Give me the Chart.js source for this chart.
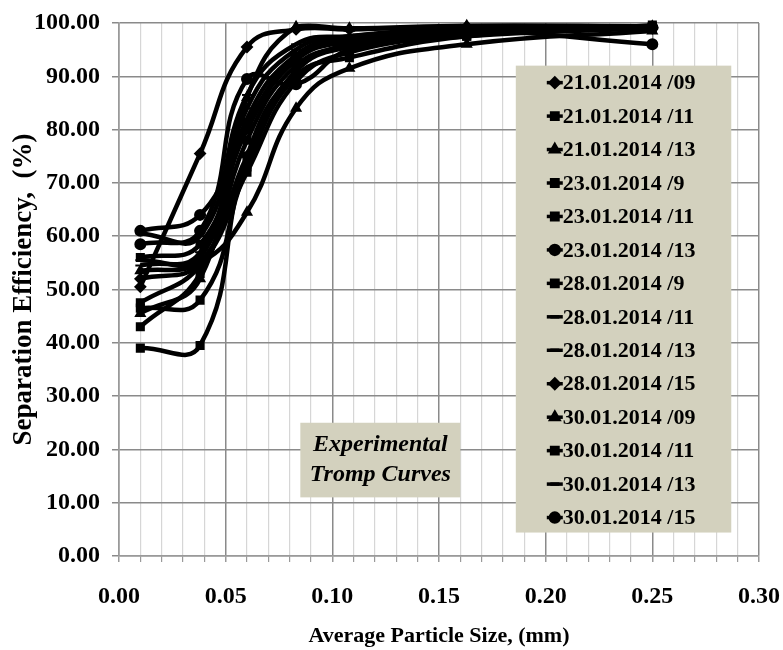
<!DOCTYPE html>
<html>
<head>
<meta charset="utf-8">
<script src="https://cdn.jsdelivr.net/npm/chart.js@4.4.1/dist/chart.umd.min.js"></script>
<style>
  html, body { margin: 0; padding: 0; background: #fff; }
  canvas { display: block; }
</style>
</head>
<body>
<canvas id="chart" width="783" height="650"></canvas>
<script>
// particle size (mm) at which every run was measured
const sizes = [0.01, 0.038, 0.06, 0.083, 0.108, 0.163, 0.25]

const labels = [
  '21.01.2014 /09', '21.01.2014 /11', '21.01.2014 /13',
  '23.01.2014 /9', '23.01.2014 /11', '23.01.2014 /13',
  '28.01.2014 /9', '28.01.2014 /11', '28.01.2014 /13', '28.01.2014 /15',
  '30.01.2014 /09', '30.01.2014 /11', '30.01.2014 /13', '30.01.2014 /15'
]
const markers = [
  'rectRot', 'rect', 'triangle',
  'rect', 'rect', 'circle',
  'rect', 'line', 'line', 'rectRot',
  'triangle', 'rect', 'line', 'circle'
]

// separation efficiency (%) per run
const r21_09 = [50.5, 75.5, 95.5, 98.8, 98.8, 99.3, 99.0]
const r21_11 = [56.0, 58.5, 80.0, 93.0, 96.5, 98.5, 99.3]
const r21_13 = [53.5, 55.0, 64.5, 84.0, 91.5, 96.0, 98.5]
const r23_09 = [43.0, 53.0, 78.0, 92.0, 95.5, 98.0, 99.2]
const r23_11 = [47.5, 54.5, 72.0, 89.0, 94.5, 97.5, 99.0]
const r23_13 = [58.5, 61.0, 89.5, 88.5, 95.0, 98.5, 99.2]
const r28_09 = [39.0, 39.5, 75.0, 91.0, 95.5, 98.0, 99.3]
const r28_11 = [54.5, 57.0, 84.0, 95.0, 97.5, 98.8, 99.3]
const r28_13 = [55.5, 56.0, 82.0, 94.0, 97.0, 98.5, 99.4]
const r28_15 = [52.0, 55.0, 75.0, 91.0, 96.0, 98.3, 99.2]
const r30_09 = [45.5, 52.0, 86.0, 99.3, 99.0, 99.5, 99.4]
const r30_11 = [46.5, 48.0, 73.0, 90.0, 93.5, 97.5, 99.6]
const r30_13 = [60.5, 60.0, 86.5, 96.0, 97.5, 98.8, 99.2]
const r30_15 = [61.0, 64.0, 81.0, 93.5, 96.5, 98.5, 96.0]

const runs = [r21_09, r21_11, r21_13, r23_09, r23_11, r23_13, r28_09,
  r28_11, r28_13, r28_15, r30_09, r30_11, r30_13, r30_15]

const yTicks = [0, 10, 20, 30, 40, 50, 60, 70, 80, 90, 100]

const FONT = "'Liberation Serif', 'Times New Roman', serif"
const BOX = '#d3d1be'

const isMajorX = v => Math.abs(v * 20 - Math.round(v * 20)) < 1e-6

// legend box drawn on the right, over the grid
const boxLegend = {
  id: 'boxLegend',
  afterDraw(chart) {
    const ctx = chart.ctx
    const x = chart.scales.x, y = chart.scales.y
    const left = x.getPixelForValue(0.186), right = x.getPixelForValue(0.287)
    const top = y.getPixelForValue(92), bottom = y.getPixelForValue(4.4)
    ctx.save()
    ctx.fillStyle = BOX
    ctx.fillRect(left, top, right - left, bottom - top)
    const step = (bottom - top - 32) / (chart.data.datasets.length - 1)
    ctx.font = 'bold 22px ' + FONT
    ctx.textBaseline = 'middle'
    ctx.fillStyle = '#000'
    chart.data.datasets.forEach((ds, i) => {
      const cy = top + 17 + i * step
      ctx.strokeStyle = '#000'
      ctx.lineWidth = 3.5
      ctx.beginPath()
      ctx.moveTo(left + 31, cy)
      ctx.lineTo(left + 47, cy)
      ctx.stroke()
      Chart.helpers.drawPoint(ctx, {
        pointStyle: ds.pointStyle, radius: 4.5, borderWidth: 2, rotation: 0
      }, left + 39, cy)
      ctx.fillText(ds.label, left + 47, cy + 1)
    })

    // text box in the middle of the plot
    const bl = x.getPixelForValue(0.085), br = x.getPixelForValue(0.16)
    const bt = y.getPixelForValue(25), bb = y.getPixelForValue(11)
    ctx.fillStyle = BOX
    ctx.fillRect(bl, bt, br - bl, bb - bt)
    ctx.fillStyle = '#000'
    ctx.textAlign = 'center'
    ctx.font = 'italic bold 24px ' + FONT
    ctx.fillText('Experimental', (bl + br) / 2, bt + 22)
    ctx.fillText('Tromp Curves', (bl + br) / 2, bt + 52)
    ctx.restore()
  }
}

new Chart(document.getElementById('chart'), {
  type: 'scatter',
  data: {
    datasets: runs.map((vals, i) => ({
      label: labels[i],
      data: sizes.map((s, k) => ({ x: s, y: vals[k] })),
      showLine: true,
      tension: 0.45,
      borderColor: '#000',
      backgroundColor: '#000',
      borderWidth: 4.5,
      pointStyle: markers[i],
      pointRadius: 5,
      pointBorderWidth: 2,
      pointBorderColor: '#000',
      pointBackgroundColor: '#000',
      clip: 10
    }))
  },
  options: {
    responsive: false,
    animation: false,
    layout: { padding: { top: 23, right: 24, left: 0, bottom: 0 } },
    plugins: {
      legend: { display: false },
      tooltip: { enabled: false }
    },
    scales: {
      x: {
        type: 'linear',
        min: 0,
        max: 0.3,
        afterFit: s => { s.height = 94; s.paddingLeft = 0; s.paddingRight = 0 },
        ticks: {
          stepSize: 0.01,
          autoSkip: false,
          maxRotation: 0,
          minRotation: 0,
          padding: 20,
          color: '#000',
          font: { family: FONT, size: 24, weight: 'bold' },
          callback: v => isMajorX(v) ? v.toFixed(2) : ''
        },
        grid: {
          color: c => isMajorX(c.tick.value) ? '#8a8a8a' : '#d6d6d6',
          lineWidth: c => isMajorX(c.tick.value) ? 1.5 : 1.2,
          tickColor: '#9a9a9a',
          tickLength: 6
        },
        border: { color: '#9a9a9a', width: 1.5 },
        title: {
          display: true,
          text: 'Average Particle Size, (mm)',
          color: '#000',
          font: { family: FONT, size: 22, weight: 'bold' },
          padding: { top: 0, bottom: 0 }
        }
      },
      y: {
        min: 0,
        max: 100,
        afterFit: s => { s.width = 119; s.paddingTop = 0; s.paddingBottom = 0 },
        afterBuildTicks: s => { s.ticks = yTicks.map(v => ({ value: v })) },
        ticks: {
          padding: 12,
          color: '#000',
          font: { family: FONT, size: 24, weight: 'bold' },
          callback: v => v.toFixed(2)
        },
        grid: { color: '#8a8a8a', lineWidth: 1.5, tickLength: 7, tickColor: '#8a8a8a' },
        border: { color: '#9a9a9a', width: 1.5 },
        title: {
          display: true,
          text: 'Separation Efficiency,  (%)',
          color: '#000',
          font: { family: FONT, size: 27, weight: 'bold' },
          padding: { top: 8, bottom: 0 }
        }
      }
    }
  },
  plugins: [boxLegend]
})
</script>
</body>
</html>
